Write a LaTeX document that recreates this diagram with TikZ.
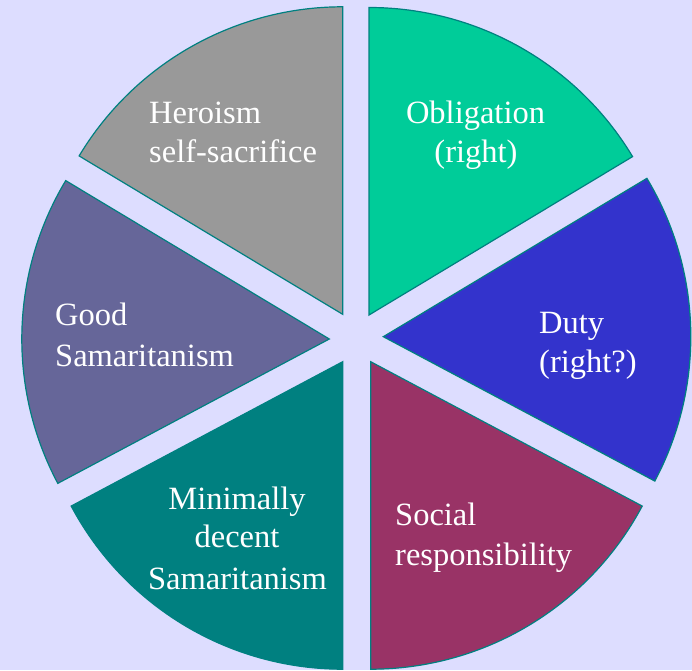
\documentclass[tikz,border=0pt]{standalone}
\usepackage{fontspec}
\setmainfont{Liberation Serif}
\definecolor{bgc}{RGB}{221,221,255}
\definecolor{edgec}{RGB}{0,128,128}
\definecolor{cobl}{RGB}{0,204,153}
\definecolor{cher}{RGB}{153,153,153}
\definecolor{cgood}{RGB}{102,102,153}
\definecolor{cmin}{RGB}{0,128,128}
\definecolor{csoc}{RGB}{153,51,102}
\definecolor{cduty}{RGB}{51,51,204}
\begin{document}
\begin{tikzpicture}[x=1pt,y=1pt,
  seg/.style={draw=edgec, line width=1.2pt, line join=miter},
  lbl/.style={text=white, inner sep=0pt, font=\fontsize{32.5}{39.5}\selectfont}]
\fill[bgc] (0,0) rectangle (692,670);
\useasboundingbox (0,0) rectangle (692,670);
% segments: apex x / apex y / start angle / end angle / colour
\foreach \x/\y/\a/\e/\c in {369/355/31/90/cobl, 342.7/355.7/90/149/cher,
    329.3/331/149/208/cgood, 342.7/308.3/208/270/cmin,
    370.7/308.3/270/332/csoc, 383.3/333.3/332/391/cduty}{
  \draw[seg, fill=\c, shift={(\x,\y)}]
    (0,0) -- (\a:307.5pt) arc[start angle=\a, end angle=\e, radius=307.5pt] -- cycle;
}
% labels
\node[lbl, anchor=base west] (h1) at (149,546.7) {Heroism};
\node[lbl, anchor=base west] (h2) at (149,507.3) {self-sacrifice};
\node[lbl, anchor=base] (o1) at (475.5,546.7) {Obligation};
\node[lbl, anchor=base] (o2) at (476,507.3) {(right)};
\node[lbl, anchor=base west] (d1) at (539,336.7) {Duty};
\node[lbl, anchor=base west] (d2) at (539,297.3) {(right?)};
\node[lbl, anchor=base west] (g1) at (55,344.3) {Good};
\node[lbl, anchor=base west] (g2) at (55,304) {Samaritanism};
\node[lbl, anchor=base] (m1) at (237,161) {Minimally};
\node[lbl, anchor=base] (m2) at (237,122.3) {decent};
\node[lbl, anchor=base] (m3) at (237.5,80.7) {Samaritanism};
\node[lbl, anchor=base west] (s1) at (395,144.3) {Social};
\node[lbl, anchor=base west] (s2) at (395,105) {responsibility};
\end{tikzpicture}
\end{document}
